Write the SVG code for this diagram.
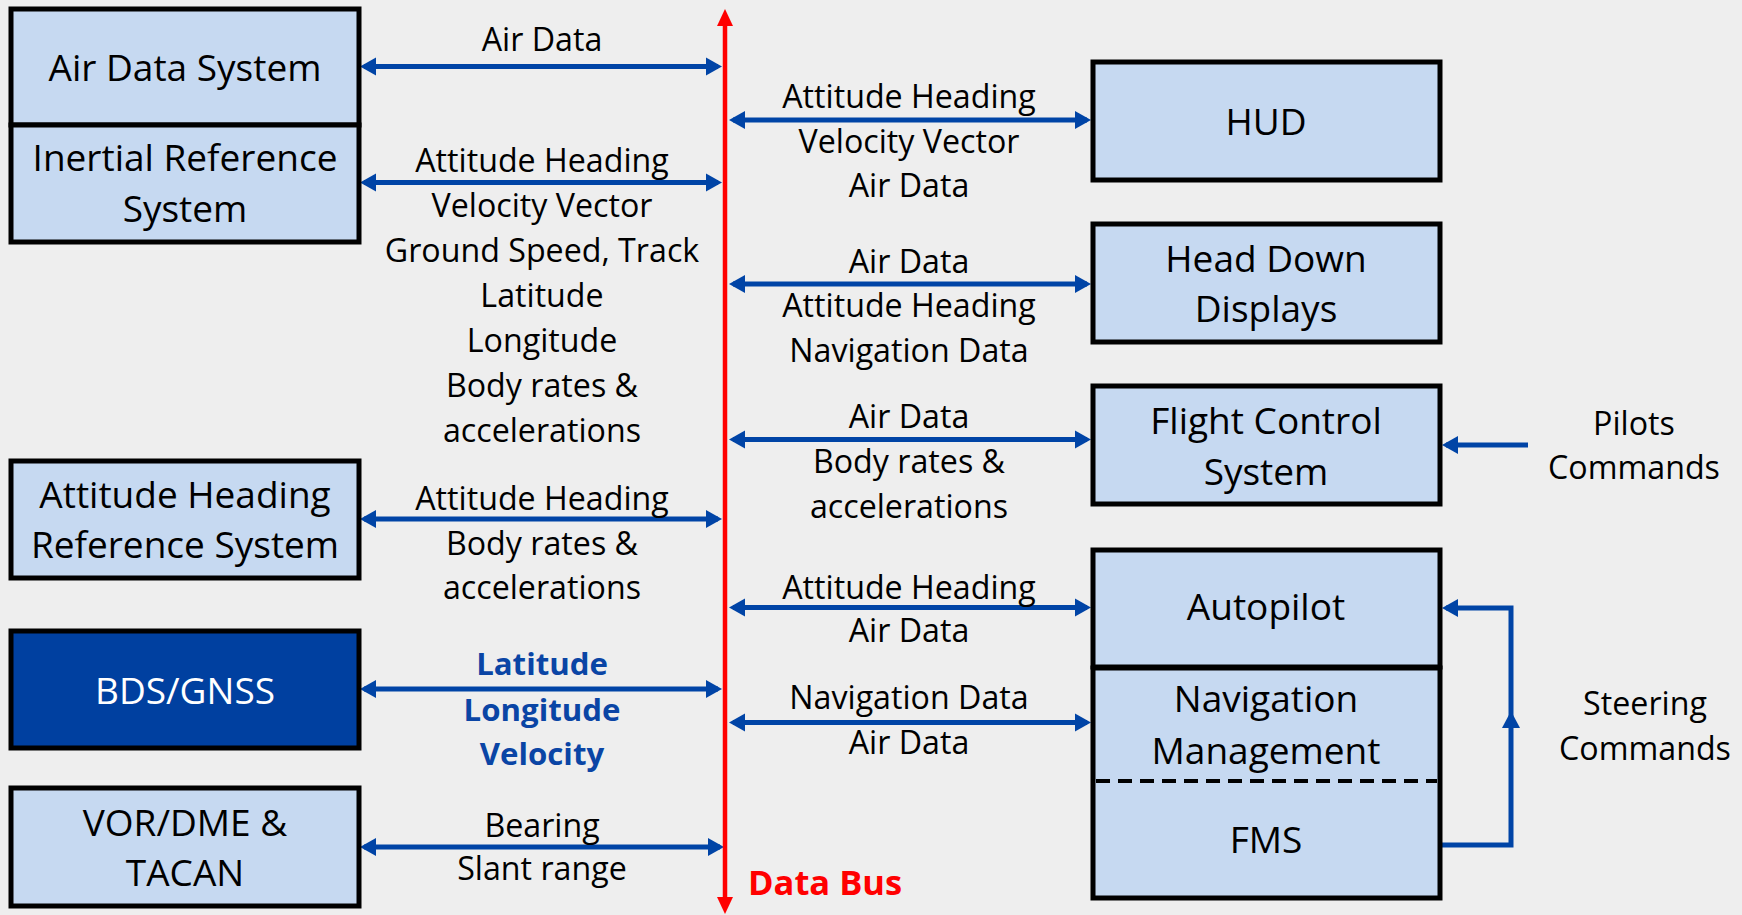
<svg xmlns="http://www.w3.org/2000/svg" width="1742" height="915" viewBox="0 0 1742 915">
<style>
.bg{fill:#eeeeee}
.box{fill:#c6d9f1;stroke:#000;stroke-width:5}
.dark{fill:#0040a0;stroke:#000;stroke-width:5}
.bt{font-family:"Open Sans","Noto Sans",sans-serif;font-size:37px;fill:#000;text-anchor:middle}
.bw{font-family:"Open Sans","Noto Sans",sans-serif;font-size:37px;fill:#fff;text-anchor:middle}
.lb{font-family:"Open Sans","Noto Sans",sans-serif;font-size:32.2px;fill:#000;text-anchor:middle}
.lbb{font-family:"Open Sans","Noto Sans",sans-serif;font-size:31.2px;font-weight:bold;fill:#0a45a5;text-anchor:middle}
.bus{font-family:"Open Sans","Noto Sans",sans-serif;font-size:34.5px;font-weight:bold;fill:#ff0000}
.con{stroke:#0044a6;stroke-width:5;fill:none}
.dbl{marker-start:url(#ah);marker-end:url(#ah)}
.one{marker-end:url(#ah)}
</style>
<defs>
<marker id="ah" markerUnits="userSpaceOnUse" markerWidth="17" markerHeight="19" refX="12" refY="9" orient="auto-start-reverse" viewBox="0 0 17 18">
<path d="M0,0 L16,9 L0,18 z" fill="#0044a6"/>
</marker>
</defs>
<rect class="bg" x="0" y="0" width="1742" height="915"/>

<g id="connectors">
<line class="con dbl" x1="364" y1="66.5" x2="718" y2="66.5"/>
<line class="con dbl" x1="364" y1="182.5" x2="718" y2="182.5"/>
<line class="con dbl" x1="364" y1="519" x2="718" y2="519"/>
<line class="con dbl" x1="364" y1="689" x2="718" y2="689"/>
<line class="con dbl" x1="364" y1="847" x2="720" y2="847"/>
<line class="con dbl" x1="733" y1="120" x2="1087" y2="120"/>
<line class="con dbl" x1="733" y1="284" x2="1087" y2="284"/>
<line class="con dbl" x1="733" y1="439.5" x2="1087" y2="439.5"/>
<line class="con dbl" x1="733" y1="607.5" x2="1087" y2="607.5"/>
<line class="con dbl" x1="733" y1="722.5" x2="1087" y2="722.5"/>
<line class="con one" x1="1528" y1="445" x2="1446" y2="445"/>
<polyline class="con one" points="1440,845 1511,845 1511,608 1446,608"/>
<polygon points="1511,711 1502,728 1520,728" fill="#0044a6"/>
<line x1="725" y1="22" x2="725" y2="901" stroke="#ff0000" stroke-width="4.5"/>
<polygon points="725,9 717,26 733,26" fill="#ff0000"/>
<polygon points="725,914 717,897 733,897" fill="#ff0000"/>
</g>

<g id="ads">
<rect class="box" x="11" y="9" width="348" height="116"/>
<text class="bt" x="185" y="81">Air Data System</text>
</g>
<g id="irs">
<rect class="box" x="11" y="125" width="348" height="117"/>
<text class="bt" x="185" y="171">Inertial Reference</text>
<text class="bt" x="185" y="222">System</text>
</g>
<g id="ahrs">
<rect class="box" x="11" y="461" width="348" height="117"/>
<text class="bt" x="185" y="508">Attitude Heading</text>
<text class="bt" x="185" y="558">Reference System</text>
</g>
<g id="bds">
<rect class="dark" x="11" y="631" width="348" height="117"/>
<text class="bw" x="185" y="704">BDS/GNSS</text>
</g>
<g id="vor">
<rect class="box" x="11" y="788" width="348" height="118"/>
<text class="bt" x="185" y="836">VOR/DME &amp;</text>
<text class="bt" x="185" y="886">TACAN</text>
</g>

<g id="hud">
<rect class="box" x="1093" y="62" width="347" height="118"/>
<text class="bt" x="1266" y="135">HUD</text>
</g>
<g id="hdd">
<rect class="box" x="1093" y="224" width="347" height="118"/>
<text class="bt" x="1266" y="272">Head Down</text>
<text class="bt" x="1266" y="322">Displays</text>
</g>
<g id="fcs">
<rect class="box" x="1093" y="386" width="347" height="118"/>
<text class="bt" x="1266" y="434">Flight Control</text>
<text class="bt" x="1266" y="485">System</text>
</g>
<g id="autopilot">
<rect class="box" x="1093" y="550" width="347" height="117"/>
<text class="bt" x="1266" y="620">Autopilot</text>
</g>
<g id="navmgmt">
<rect class="box" x="1093" y="668" width="347" height="230"/>
<line x1="1096" y1="781" x2="1437" y2="781" stroke="#000" stroke-width="4" stroke-dasharray="14 8"/>
<text class="bt" x="1266" y="712">Navigation</text>
<text class="bt" x="1266" y="764">Management</text>
<text class="bt" x="1266" y="853">FMS</text>
</g>

<g id="labels">
<text class="lb" x="542" y="51">Air Data</text>
<text class="lb" x="542" y="171.5">Attitude Heading</text>
<text class="lb" x="542" y="216.5">Velocity Vector</text>
<text class="lb" x="542" y="261.5">Ground Speed, Track</text>
<text class="lb" x="542" y="306.5">Latitude</text>
<text class="lb" x="542" y="351.5">Longitude</text>
<text class="lb" x="542" y="396.5">Body rates &amp;</text>
<text class="lb" x="542" y="441.5">accelerations</text>
<text class="lb" x="542" y="510">Attitude Heading</text>
<text class="lb" x="542" y="555">Body rates &amp;</text>
<text class="lb" x="542" y="599">accelerations</text>
<text class="lbb" x="542" y="675">Latitude</text>
<text class="lbb" x="542" y="721">Longitude</text>
<text class="lbb" x="542" y="765">Velocity</text>
<text class="lb" x="542" y="837">Bearing</text>
<text class="lb" x="542" y="880">Slant range</text>

<text class="lb" x="909" y="107.5">Attitude Heading</text>
<text class="lb" x="909" y="152.5">Velocity Vector</text>
<text class="lb" x="909" y="197">Air Data</text>
<text class="lb" x="909" y="273">Air Data</text>
<text class="lb" x="909" y="317">Attitude Heading</text>
<text class="lb" x="909" y="362">Navigation Data</text>
<text class="lb" x="909" y="428">Air Data</text>
<text class="lb" x="909" y="473">Body rates &amp;</text>
<text class="lb" x="909" y="518">accelerations</text>
<text class="lb" x="909" y="599">Attitude Heading</text>
<text class="lb" x="909" y="642">Air Data</text>
<text class="lb" x="909" y="709">Navigation Data</text>
<text class="lb" x="909" y="754">Air Data</text>

<text class="lb" x="1634" y="435">Pilots</text>
<text class="lb" x="1634" y="479">Commands</text>
<text class="lb" x="1645" y="715">Steering</text>
<text class="lb" x="1645" y="760">Commands</text>
<text class="bus" x="748" y="895">Data Bus</text>
</g>
</svg>
